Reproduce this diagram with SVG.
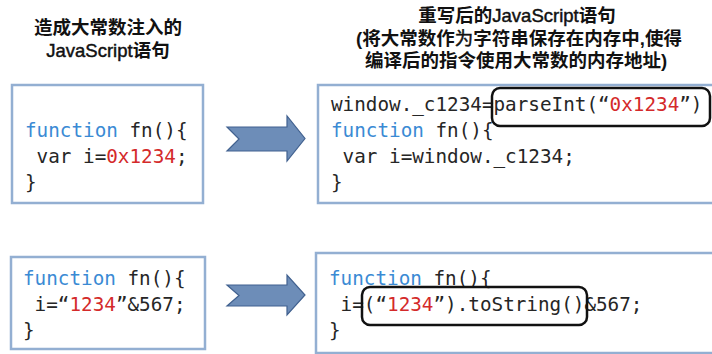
<svg xmlns="http://www.w3.org/2000/svg" width="712" height="354" viewBox="0 0 712 354">
  <style>
    .title { font-family: "Liberation Sans", "Noto Sans CJK SC", sans-serif; font-size: 18.5px; font-weight: bold; fill: #111; text-anchor: middle; }
    .lat { font-weight: normal; stroke: #111; stroke-width: 0.45px; }
    .code { font-family: "DejaVu Sans Mono", "Liberation Mono", monospace; font-size: 19.3px; fill: #262626; }
    .kw { fill: #3a8ad4; }
    .num { fill: #d42a2a; }
    .box { fill: #ffffff; stroke: #93afd2; stroke-width: 2.5; }
    .mark { fill: none; stroke: #111; stroke-width: 2.5; }
    .arrow { fill: #6d8db8; stroke: #41618f; stroke-width: 1.2; stroke-linejoin: miter; }
  </style>

  <rect width="712" height="354" fill="#ffffff"/>

  <!-- column headings -->
  <g id="heading-left">
    <text class="title" x="108" y="34">造成大常数注入的</text>
    <text class="title" x="108" y="57"><tspan class="lat">JavaScript</tspan>语句</text>
  </g>
  <g id="heading-right">
    <text class="title" x="517" y="22">重写后的<tspan class="lat">JavaScript</tspan>语句</text>
    <text class="title" x="519" y="45">(将大常数作<tspan class="lat">为</tspan>字符串保存在内存中,使得</text>
    <text class="title" x="516" y="67">编译后的指令使用大常数的内存地址)</text>
  </g>

  <!-- original code: large constant -->
  <g id="code-const-before">
    <rect class="box" x="12" y="85" width="191" height="118"/>
    <text class="code" x="25" y="137"><tspan class="kw">function</tspan> fn(){</text>
    <text class="code" x="25" y="163" xml:space="preserve"> var i=<tspan class="num">0x1234</tspan>;</text>
    <text class="code" x="25" y="189">}</text>
  </g>

  <!-- rewritten code: constant stored on window -->
  <g id="code-const-after">
    <rect class="box" x="318" y="85" width="400" height="118"/>
    <text class="code" x="331" y="111">window._c1234=parseInt(“<tspan class="num">0x1234</tspan>”)</text>
    <text class="code" x="331" y="137"><tspan class="kw">function</tspan> fn(){</text>
    <text class="code" x="331" y="163" xml:space="preserve"> var i=window._c1234;</text>
    <text class="code" x="331" y="189">}</text>
    <rect class="mark" x="492" y="88" width="218" height="38" rx="8"/>
  </g>

  <!-- original code: string operand -->
  <g id="code-string-before">
    <rect class="box" x="11" y="257" width="194" height="92"/>
    <text class="code" x="23" y="285"><tspan class="kw">function</tspan> fn(){</text>
    <text class="code" x="23" y="311" xml:space="preserve"> i=“<tspan class="num">1234</tspan>”&amp;567;</text>
    <text class="code" x="23" y="337">}</text>
  </g>

  <!-- rewritten code: string wrapped in toString() -->
  <g id="code-string-after">
    <rect class="box" x="316" y="253" width="402" height="100"/>
    <text class="code" x="329" y="285"><tspan class="kw">function</tspan> fn(){</text>
    <text class="code" x="329" y="311" xml:space="preserve"> i=(“<tspan class="num">1234</tspan>”).toString()&amp;567;</text>
    <text class="code" x="329" y="337">}</text>
    <rect class="mark" x="362" y="287" width="225" height="38" rx="8"/>
  </g>

  <!-- transformation arrows -->
  <g id="connectors">
    <path class="arrow" d="M227,127 L287,127 L287,116 L305,138.5 L287,161 L287,151 L227,151 L239,139 Z"/>
    <path class="arrow" d="M227,285 L287,285 L287,275 L305,295 L287,315 L287,306 L227,306 L239,295.5 Z"/>
  </g>
</svg>
